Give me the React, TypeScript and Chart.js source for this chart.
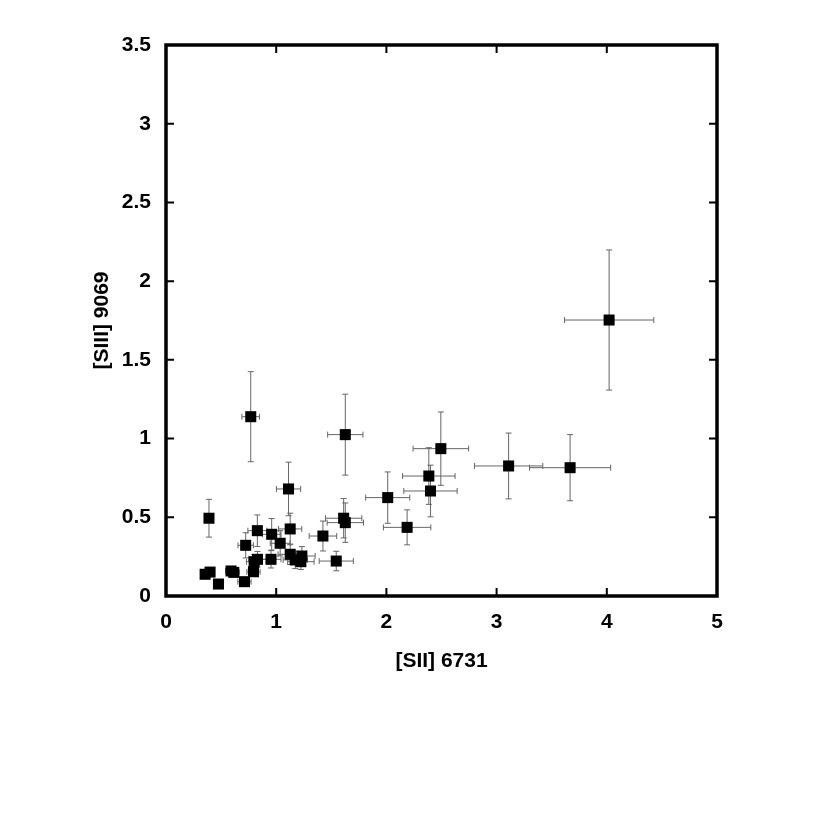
import React, { useEffect, useRef } from "react";
import { Chart, registerables } from "chart.js";

Chart.register(...registerables);

// [SII] 6731 (x) vs [SIII] 9069 (y)
const xValues = [0.355, 0.40, 0.39, 0.476, 0.59, 0.615, 0.712, 0.723, 0.769, 0.794, 0.80, 0.829, 0.83, 0.959, 0.953, 1.036, 1.112, 1.127, 1.127, 1.173, 1.224, 1.233, 1.424, 1.545, 1.612, 1.627, 1.627, 2.012, 2.188, 2.385, 2.40, 2.494, 3.109, 3.667, 4.021];
const yValues = [0.138, 0.152, 0.494, 0.076, 0.159, 0.150, 0.091, 0.322, 1.139, 0.154, 0.218, 0.415, 0.233, 0.392, 0.233, 0.335, 0.68, 0.426, 0.265, 0.229, 0.218, 0.254, 0.381, 0.222, 0.494, 0.466, 1.025, 0.625, 0.436, 0.762, 0.667, 0.936, 0.826, 0.815, 1.753];
const xErrors = [0.03, 0.03, 0.015, 0.04, 0.05, 0.05, 0.06, 0.07, 0.08, 0.06, 0.07, 0.086, 0.08, 0.085, 0.09, 0.09, 0.11, 0.105, 0.11, 0.11, 0.12, 0.12, 0.125, 0.155, 0.165, 0.165, 0.16, 0.2, 0.215, 0.238, 0.242, 0.252, 0.31, 0.368, 0.405];
const yErrors = [0.015, 0.02, 0.12, 0.015, 0.025, 0.025, 0.02, 0.08, 0.286, 0.03, 0.045, 0.1, 0.05, 0.1, 0.055, 0.08, 0.17, 0.1, 0.065, 0.055, 0.05, 0.06, 0.095, 0.062, 0.125, 0.125, 0.257, 0.163, 0.111, 0.18, 0.164, 0.233, 0.209, 0.21, 0.445];

const xTickValues = [0, 1, 2, 3, 4, 5];
const yTickValues = [0, 0.5, 1, 1.5, 2, 2.5, 3, 3.5];

const xTitle = "[SII] 6731";
const yTitle = "[SIII] 9069";

const FONT = "'Liberation Sans', Arial, Helvetica, sans-serif";
const FONT_SIZE = 21;

const errorBarPlugin = {
  id: "errorBars",
  beforeDatasetsDraw(chart: any) {
    const { ctx, scales } = chart;
    const xs = scales.x;
    const ys = scales.y;
    const cap = 3;
    ctx.save();
    ctx.strokeStyle = "#666666";
    ctx.lineWidth = 1;
    for (let i = 0; i < xValues.length; i++) {
      const px = xs.getPixelForValue(xValues[i]);
      const py = ys.getPixelForValue(yValues[i]);
      const x1 = xs.getPixelForValue(xValues[i] - xErrors[i]);
      const x2 = xs.getPixelForValue(xValues[i] + xErrors[i]);
      const y1 = ys.getPixelForValue(yValues[i] - yErrors[i]);
      const y2 = ys.getPixelForValue(yValues[i] + yErrors[i]);
      ctx.beginPath();
      ctx.moveTo(x1, py);
      ctx.lineTo(x2, py);
      ctx.moveTo(x1, py - cap);
      ctx.lineTo(x1, py + cap);
      ctx.moveTo(x2, py - cap);
      ctx.lineTo(x2, py + cap);
      ctx.moveTo(px, y1);
      ctx.lineTo(px, y2);
      ctx.moveTo(px - cap, y1);
      ctx.lineTo(px + cap, y1);
      ctx.moveTo(px - cap, y2);
      ctx.lineTo(px + cap, y2);
      ctx.stroke();
    }
    ctx.restore();
  },
};

const framePlugin = {
  id: "frame",
  afterDatasetsDraw(chart: any) {
    const { ctx, chartArea, scales } = chart;
    const { left, right, top, bottom } = chartArea;
    const tl = 8;
    ctx.save();
    ctx.strokeStyle = "#000";
    ctx.lineWidth = 2;
    ctx.beginPath();
    xTickValues.forEach((v) => {
      const p = scales.x.getPixelForValue(v);
      ctx.moveTo(p, bottom);
      ctx.lineTo(p, bottom - tl);
      ctx.moveTo(p, top);
      ctx.lineTo(p, top + tl);
    });
    yTickValues.forEach((v) => {
      const p = scales.y.getPixelForValue(v);
      ctx.moveTo(left, p);
      ctx.lineTo(left + tl, p);
      ctx.moveTo(right, p);
      ctx.lineTo(right - tl, p);
    });
    ctx.stroke();
    ctx.lineWidth = 3.5;
    ctx.strokeRect(left, top, right - left, bottom - top);
    ctx.restore();
  },
};

export default function App() {
  const canvasRef = useRef<HTMLCanvasElement | null>(null);

  useEffect(() => {
    if (!canvasRef.current) return;
    const points = xValues.map((x, i) => ({ x, y: yValues[i] }));
    const tickFont = { family: FONT, size: FONT_SIZE, weight: "bold" };
    const chart = new Chart(canvasRef.current, {
      type: "scatter",
      data: {
        datasets: [
          {
            data: points,
            pointStyle: "rect",
            pointRadius: 7.8,
            pointHoverRadius: 7.8,
            backgroundColor: "#000",
            borderColor: "#000",
            borderWidth: 0,
          },
        ],
      },
      options: {
        animation: false,
        responsive: false,
        maintainAspectRatio: false,
        events: [],
        layout: { padding: { left: 90, right: 113, top: 45, bottom: 156 } },
        plugins: {
          legend: { display: false },
          tooltip: { enabled: false },
        },
        scales: {
          x: {
            type: "linear",
            min: 0,
            max: 5,
            afterBuildTicks: (scale: any) => {
              scale.ticks = xTickValues.map((v) => ({ value: v }));
            },
            afterFit: (scale: any) => {
              scale.height = 78;
            },
            grid: { display: false, drawTicks: false },
            border: { display: false },
            ticks: {
              padding: 14,
              color: "#000",
              font: tickFont,
              callback: (v: any) => String(v),
            },
            title: {
              display: true,
              text: xTitle,
              color: "#000",
              padding: 0,
              font: tickFont,
            },
          },
          y: {
            type: "linear",
            min: 0,
            max: 3.5,
            afterBuildTicks: (scale: any) => {
              scale.ticks = yTickValues.map((v) => ({ value: v }));
            },
            afterFit: (scale: any) => {
              scale.width = 76;
            },
            grid: { display: false, drawTicks: false },
            border: { display: false },
            ticks: {
              padding: 15,
              color: "#000",
              font: tickFont,
              callback: (v: any) => String(v),
            },
            title: {
              display: true,
              text: yTitle,
              color: "#000",
              padding: 0,
              font: tickFont,
            },
          },
        },
      } as any,
      plugins: [errorBarPlugin, framePlugin],
    });
    return () => chart.destroy();
  }, []);

  return (
    <div style={{ position: "fixed", left: 0, top: 0, width: 830, height: 830, background: "#fff" }}>
      <canvas ref={canvasRef} width={830} height={830} style={{ width: 830, height: 830, display: "block" }} />
    </div>
  );
}
